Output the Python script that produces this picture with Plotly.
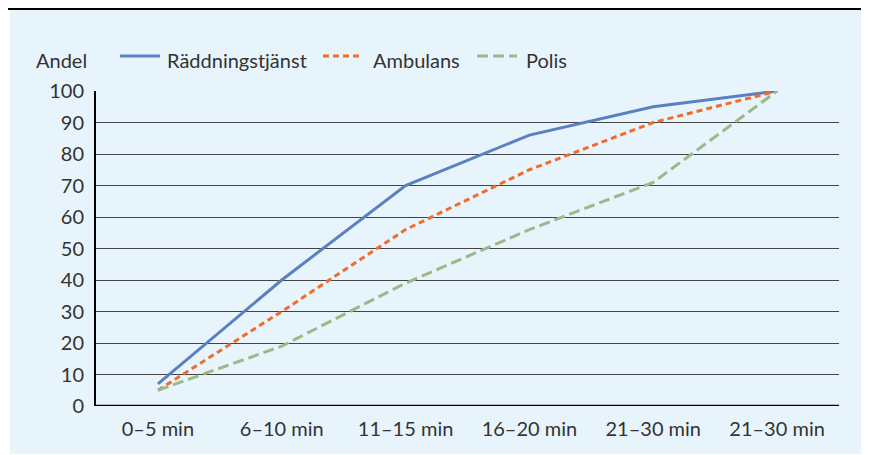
import plotly.graph_objects as go

categories = ["0–5 min", "6–10 min", "11–15 min", "16–20 min", "21–30 min", "21–30 min"]
raddning = [7, 40, 70, 86, 95, 100]
ambulans = [5, 30, 56, 75, 90, 100]
polis = [5, 19, 39, 56, 71, 100]
y_ticks = list(range(0, 101, 10))
series_names = ["Räddningstjänst", "Ambulans", "Polis"]

W, H = 869, 455
L, R, T, B = 88, 38, 83, 57
PW, PH = W - L - R, H - T - B
FONT = "Lato"
FS = 20
TXT = "#333333"
BG = "#e8f4fc"
COLORS = ["#5b80bf", "#f26b2b", "#9bb98a"]
DASHES = ["solid", "6px,4px", "11px,5px"]

xs = list(range(len(categories)))


def dx(p):
    return (p - L) / PW


def dy(p):
    return (H - B - p) / PH


fig = go.Figure()
for name, vals, col, dash in zip(series_names, [raddning, ambulans, polis], COLORS, DASHES):
    fig.add_trace(go.Scatter(x=xs, y=vals, mode="lines", name=name, showlegend=False,
                             line=dict(color=col, width=3, dash=dash)))

shapes = [
    dict(type="rect", xref="paper", yref="paper", layer="below",
         x0=dx(2), x1=dx(W), y0=dy(446), y1=dy(2),
         fillcolor=BG, line=dict(width=0)),
    dict(type="line", xref="paper", yref="paper",
         x0=dx(0), x1=dx(W), y0=dy(1), y1=dy(1),
         line=dict(color="black", width=2)),
    dict(type="line", xref="x", yref="y", x0=-0.5, x1=len(categories) - 0.5,
         y0=0, y1=0, line=dict(color="black", width=2.5)),
]
annotations = [
    dict(text="Andel", xref="paper", yref="paper", x=dx(26), y=dy(52),
         xanchor="left", yanchor="middle", showarrow=False,
         font=dict(family=FONT, size=FS, color=TXT)),
]

# manual legend
leg_y = 48
leg_items = [(112, 152, 157), (315, 352, 363), (469, 509, 516)]
for (x0, x1, xt), name, col, dash in zip(leg_items, series_names, COLORS, DASHES):
    shapes.append(dict(type="line", xref="paper", yref="paper",
                       x0=dx(x0), x1=dx(x1), y0=dy(leg_y), y1=dy(leg_y),
                       line=dict(color=col, width=3, dash=dash)))
    annotations.append(dict(text=name, xref="paper", yref="paper", x=dx(xt), y=dy(52),
                            xanchor="left", yanchor="middle", showarrow=False,
                            font=dict(family=FONT, size=FS, color=TXT)))

fig.update_layout(
    width=W, height=H,
    margin=dict(l=L, r=R, t=T, b=B),
    paper_bgcolor="white",
    plot_bgcolor="rgba(0,0,0,0)",
    font=dict(family=FONT, size=FS, color=TXT),
    showlegend=False,
    xaxis=dict(range=[-0.5, len(categories) - 0.5], tickmode="array", tickvals=xs,
               ticktext=categories, showgrid=False, zeroline=False, showline=False,
               ticks="", ticklabelstandoff=9, fixedrange=True),
    yaxis=dict(range=[0, 100], tickmode="array", tickvals=y_ticks,
               showgrid=True, gridcolor="#444444", gridwidth=1, zeroline=False,
               showline=True, linecolor="black", linewidth=2, ticks="",
               ticklabelstandoff=6, fixedrange=True),
    shapes=shapes,
    annotations=annotations,
)

fig.write_html("out.html")
